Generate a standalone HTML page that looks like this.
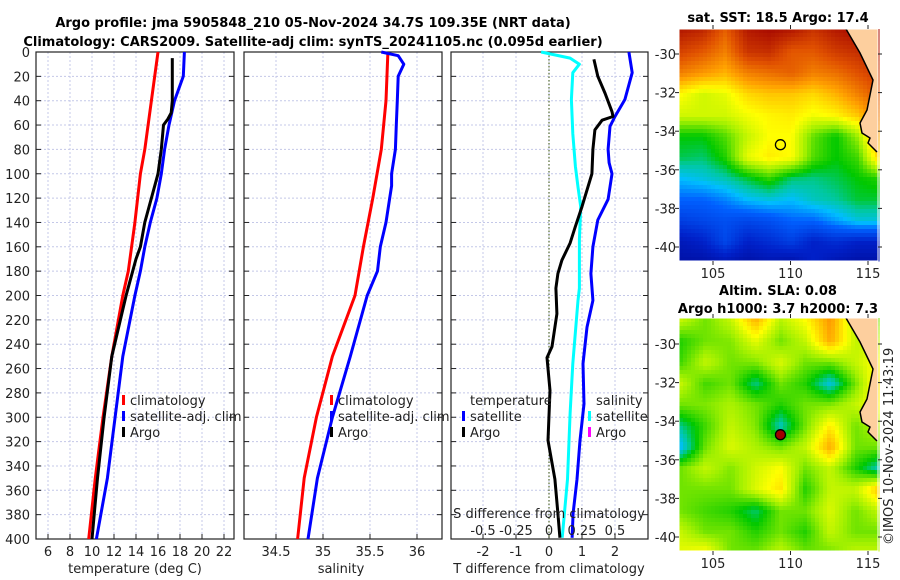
<!DOCTYPE html>
<html><head><meta charset="utf-8">
<style>
html,body{margin:0;padding:0;background:#fff;}
svg{display:block;font-family:"DejaVu Sans","Liberation Sans",sans-serif;}
.t{font-size:13px;fill:#222;}
.b{font-size:13px;font-weight:bold;fill:#000;}
</style></head>
<body>
<svg id="c" width="900" height="580" viewBox="0 0 900 580" xmlns="http://www.w3.org/2000/svg">
<text class="b" x="313" y="27" text-anchor="middle">Argo profile: jma 5905848_210 05-Nov-2024 34.7S 109.35E (NRT data)</text>
<text class="b" x="313" y="46" text-anchor="middle">Climatology: CARS2009. Satellite-adj clim: synTS_20241105.nc (0.095d earlier)</text>
<text class="b" x="778" y="22" text-anchor="middle">sat. SST: 18.5 Argo: 17.4</text>
<text class="b" x="778" y="295" text-anchor="middle">Altim. SLA: 0.08</text>
<text class="b" x="778" y="313" text-anchor="middle">Argo h1000: 3.7 h2000: 7.3</text>
<text class="t" transform="translate(893,545) rotate(-90)">©IMOS 10-Nov-2024 11:43:19</text>
</svg>
<script>
// ---------- profile data ----------
const tClimDepth=[0,20,40,80,100,140,180,200,250,300,350,400];
const tClimVal=[16.0,15.7,15.4,14.8,14.4,13.9,13.3,12.8,11.8,11.0,10.3,9.7];
const tSatDepth=[0,20,30,40,60,80,100,120,140,160,180,200,250,300,350,400];
const tSatVal=[18.4,18.3,17.9,17.5,17.0,16.6,16.3,15.9,15.3,14.8,14.4,13.9,12.8,12.1,11.4,10.4];
const tArgoDepth=[5,40,50,55,60,70,80,100,120,140,160,170,180,190,200,250,300,350,400];
const tArgoVal=[17.3,17.3,17.2,16.9,16.5,16.4,16.3,16.0,15.4,14.8,14.4,14.0,13.7,13.4,13.1,11.8,11.1,10.5,10.0];
const sClimDepth=[0,40,80,120,160,200,250,300,350,400];
const sClimVal=[35.69,35.67,35.62,35.53,35.43,35.34,35.10,34.93,34.80,34.73];
const sSatDepth=[0,3,10,20,40,60,80,100,110,120,140,160,180,200,250,300,350,400];
const sSatVal=[35.62,35.80,35.86,35.80,35.79,35.78,35.77,35.73,35.73,35.71,35.67,35.61,35.58,35.47,35.29,35.10,34.94,34.84];
const dtSatDepth=[0,17,39,53,61,80,91,100,121,138,160,182,204,226,256,289,319,351,379,399];
const dtSatVal=[2.42,2.52,2.30,2.0,1.85,1.79,1.82,1.91,1.79,1.48,1.33,1.27,1.33,1.15,1.03,1.06,0.94,0.85,0.73,0.70];
const dtArgoDepth=[6,20,34,49,53,56,64,80,100,111,127,144,157,171,182,194,215,242,251,278,319,351,379,399];
const dtArgoVal=[1.36,1.48,1.70,1.91,1.94,1.61,1.39,1.33,1.30,1.18,1.0,0.79,0.64,0.39,0.27,0.21,0.24,0.09,-0.06,0.03,-0.03,0.18,0.27,0.33];
const dsSatDepth=[0,5,10,17,39,67,94,111,127,154,194,204,256,297,351,399];
const dsSatVal=[-0.06,0.16,0.23,0.18,0.17,0.18,0.20,0.22,0.24,0.23,0.23,0.22,0.18,0.16,0.14,0.10];
const depthTicks=[0,20,40,60,80,100,120,140,160,180,200,220,240,260,280,300,320,340,360,380,400];
const tTicks=[6,8,10,12,14,16,18,20,22];
const sTicks=[34.5,35,35.5,36];
const dtTicks=[-2,-1,0,1,2];
const dsTicks=[-0.5,-0.25,0,0.25,0.5];
const dsTickLabels=["-0.5","-0.25","0","0.25","0.5"];
// ---------- map data (colormap index 0..1) ----------
const sstGrid=[
[.96,.94,.86,.96,.98,.96,.92,.96,.98,.98],
[.9,.87,.82,.92,.93,.87,.87,.91,.93,.96],
[.82,.79,.76,.82,.84,.86,.82,.84,.88,.92],
[.68,.64,.66,.72,.74,.74,.72,.76,.82,.88],
[.64,.64,.64,.67,.69,.7,.67,.69,.74,.84],
[.5,.5,.55,.63,.68,.68,.56,.5,.6,.8],
[.47,.46,.52,.66,.7,.68,.55,.5,.54,.74],
[.38,.4,.43,.48,.53,.46,.45,.47,.5,.52],
[.3,.3,.33,.38,.4,.38,.42,.44,.48,.48],
[.22,.24,.26,.24,.26,.3,.3,.35,.4,.4],
[.12,.15,.24,.15,.18,.22,.15,.18,.15,.15],
[.08,.08,.1,.08,.1,.08,.15,.1,.08,.08]];
const slaGrid=[
[.63,.57,.63,.76,.62,.68,.79,.62,.57],
[.52,.57,.58,.66,.57,.63,.77,.63,.63],
[.54,.63,.57,.58,.65,.57,.57,.63,.69],
[.63,.54,.57,.45,.57,.52,.4,.57,.73],
[.57,.58,.61,.57,.52,.57,.58,.63,.69],
[.45,.54,.63,.58,.42,.57,.7,.57,.63],
[.38,.57,.65,.61,.57,.63,.77,.57,.57],
[.57,.63,.58,.64,.68,.57,.63,.52,.42],
[.57,.57,.57,.65,.71,.52,.63,.63,.75],
[.57,.54,.52,.46,.57,.57,.65,.57,.63],
[.63,.57,.57,.52,.57,.52,.63,.57,.57],
[.66,.69,.57,.57,.63,.57,.57,.63,.63]];
const latTicks=[-30,-32,-34,-36,-38,-40];
const lonTicks=[105,110,115];
const argoLon=109.35, argoLat=-34.7;

const NS="http://www.w3.org/2000/svg";
const svg=document.getElementById('c');
function mk(tag,attrs,parent){const e=document.createElementNS(NS,tag);for(const k in attrs)e.setAttribute(k,attrs[k]);(parent||svg).appendChild(e);return e;}

const top0=52,bot0=539;
const yD=d=>top0+d*(bot0-top0)/400;
const panels=[
 {name:'temperature',x0:36,x1:234,f:v=>48+(v-6)*11},
 {name:'salinity',x0:244,x1:442,f:v=>276+(v-34.5)*94},
 {name:'difference',x0:451,x1:648,f:v=>549+v*33}
];
const dsX=v=>549+v*132;

panels.forEach((p,pi)=>{
  const g=mk('g',{});
  
  
  const ticks=pi==0?tTicks:pi==1?sTicks:dtTicks;
  depthTicks.forEach(d=>{
    const l=mk('line',{x1:p.x0,x2:p.x1,y1:yD(d),y2:yD(d),stroke:'#c4c8e8','stroke-width':1,'stroke-dasharray':'2,2'},g);
    
    
    mk('line',{x1:p.x0,x2:p.x0+5,y1:yD(d),y2:yD(d),stroke:'#222'},g);
    mk('line',{x1:p.x1-5,x2:p.x1,y1:yD(d),y2:yD(d),stroke:'#222'},g);
  });
  ticks.forEach((t,i)=>{
    const x=p.f(t);
    const l=mk('line',{x1:x,x2:x,y1:top0,y2:bot0,stroke:'#c4c8e8','stroke-width':1,'stroke-dasharray':'2,2'},g);
    
    
    mk('line',{x1:x,x2:x,y1:bot0-5,y2:bot0,stroke:'#222'},g);
    const tx=mk('text',{x:x,y:556,'text-anchor':'middle',class:'t'},g);
    tx.textContent=String(t);
    
    
  });
  const fr=mk('rect',{x:p.x0,y:top0,width:p.x1-p.x0,height:bot0-top0,fill:'none',stroke:'#222','stroke-width':1.2},g);
  
  
});
depthTicks.forEach(d=>{
  const t=mk('text',{x:30,y:yD(d)+5,'text-anchor':'end',class:'t'});
  t.textContent=String(d);
  
  
});
const zl=mk('line',{x1:549,x2:549,y1:top0,y2:bot0,stroke:'#556b2f','stroke-width':1.2,'stroke-dasharray':'1.5,2'});



function series(depths,vals,fx,color,name,w){
  const pts=depths.map((d,i)=>fx(vals[i]).toFixed(1)+','+yD(d).toFixed(1)).join(' ');
  const pl=mk('polyline',{points:pts,fill:'none',stroke:color,'stroke-width':w||3,'stroke-linejoin':'round'});
  
  
}
series(tClimDepth,tClimVal,panels[0].f,'#ff0000','temperature-climatology-line');
series(tSatDepth,tSatVal,panels[0].f,'#0000ff','temperature-satellite-adj-line');
series(tArgoDepth,tArgoVal,panels[0].f,'#000000','temperature-argo-line');
series(sClimDepth,sClimVal,panels[1].f,'#ff0000','salinity-climatology-line');
series(sSatDepth,sSatVal,panels[1].f,'#0000ff','salinity-satellite-adj-line');
series(dsSatDepth,dsSatVal,dsX,'#00ffff','salinity-difference-satellite-line');
series(dtSatDepth,dtSatVal,panels[2].f,'#0000ff','temperature-difference-satellite-line');
series(dtArgoDepth,dtArgoVal,panels[2].f,'#000000','temperature-difference-argo-line');

function txt(x,y,s,name,anchor,cls){const t=mk('text',{x:x,y:y,'text-anchor':anchor||'start',class:cls||'t'});t.textContent=s;return t;}
function legend(x,y,color,label,name){
  const r=mk('rect',{x:x,y:y-10,width:3,height:10,fill:color});
  
  
  txt(x+8,y,label,name);
}
legend(122,405,'#ff0000','climatology','legend-t-climatology');
legend(122,421,'#0000ff','satellite-adj. clim','legend-t-satellite');
legend(122,437,'#000000','Argo','legend-t-argo');
legend(330,405,'#ff0000','climatology','legend-s-climatology');
legend(330,421,'#0000ff','satellite-adj. clim','legend-s-satellite');
legend(330,437,'#000000','Argo','legend-s-argo');
txt(470,405,'temperature','legend-temperature-header');
legend(462,421,'#0000ff','satellite','legend-dt-satellite');
legend(462,437,'#000000','Argo','legend-dt-argo');
txt(596,405,'salinity','legend-salinity-header');
legend(588,421,'#00ffff','satellite','legend-ds-satellite');
legend(588,437,'#ff00ff','Argo','legend-ds-argo');
txt(549,518,'S difference from climatology','s-difference-axis-title','middle');
dsTicks.forEach((v,i)=>txt(dsX(v),535,dsTickLabels[i],'s-difference-tick-label','middle'));
txt(135,573,'temperature (deg C)','temperature-axis-title','middle');
txt(341,573,'salinity','salinity-axis-title','middle');
txt(549,573,'T difference from climatology','t-difference-axis-title','middle');

// ---------- maps ----------
const cmStops=[[0,[0,0,128]],[0.15,[0,32,200]],[0.3,[0,96,255]],[0.38,[0,190,255]],[0.44,[0,200,160]],[0.5,[0,200,0]],[0.6,[160,240,0]],[0.68,[255,255,0]],[0.78,[255,160,0]],[0.88,[224,80,0]],[1,[160,0,0]]];
function cmap(v){v=Math.max(0,Math.min(1,v));
  for(let i=1;i<cmStops.length;i++){if(v<=cmStops[i][0]){const a=cmStops[i-1],b=cmStops[i];const t=(v-a[0])/(b[0]-a[0]);
    return 'rgb('+a[1].map((c,k)=>Math.round(c+(b[1][k]-c)*t)).join(',')+')';}}
  return 'rgb(160,0,0)';}
function drawMap(grid,y0,y1,name,lat30y,lat40y,argoStyle){
  const x0=679,x1=878;
  const g=mk('g',{});
  
  
  const R=grid.length,C=grid[0].length,cs=4;
  for(let y=y0;y<y1;y+=cs){for(let x=x0;x<x1;x+=cs){
    const fy=(y-y0)/(y1-y0)*(R-1),fx=(x-x0)/(x1-x0)*(C-1);
    const iy=Math.min(R-2,Math.floor(fy)),ix=Math.min(C-2,Math.floor(fx));
    const ty=fy-iy,tx=fx-ix;
    const v=grid[iy][ix]*(1-tx)*(1-ty)+grid[iy][ix+1]*tx*(1-ty)+grid[iy+1][ix]*(1-tx)*ty+grid[iy+1][ix+1]*tx*ty;
    mk('rect',{x:x,y:y,width:cs+0.5,height:Math.min(cs,y1-y)+0.5,fill:cmap(v)},g);
  }}
  const o=y0-29;
  const coast=[[846,29],[860,53],[873,80],[867,110],[860,123],[862,133],[870,138],[868,143],[877,152]].map(p=>[p[0],p[1]+o]);
  const landPts=coast.map(p=>p.join(',')).join(' ')+` ${x1},${y0+123} ${x1},${y0}`;
  const land=mk('polygon',{points:landPts,fill:'#fdcf9e'},g);
  
  
  mk('polyline',{points:coast.map(p=>p.join(',')).join(' '),fill:'none',stroke:'#000','stroke-width':1.5},g);
  mk('rect',{x:x0,y:y0,width:x1-x0,height:y1-y0,fill:'none',stroke:'#fff','stroke-width':1},g);
  const latY=l=>lat30y+(-30-l)*(lat40y-lat30y)/10;
  latTicks.forEach(l=>{
    const y=latY(l);
    mk('line',{x1:x0-4,x2:x0,y1:y,y2:y,stroke:'#222'},g);
    mk('line',{x1:x1,x2:x1+4,y1:y,y2:y,stroke:'#222'},g);
    txt(676,y+5,String(l),'map-lat-tick-label','end');
  });
  const lonX=l=>713+(l-105)*15.5;
  lonTicks.forEach(l=>{
    const x=lonX(l);
    mk('line',{x1:x,x2:x,y1:y1,y2:y1+4,stroke:'#222'},g);
    mk('line',{x1:x,x2:x,y1:y0-4,y2:y0,stroke:'#222'},g);
    txt(x,y1+17,String(l),'map-lon-tick-label','middle');
  });
  const m=mk('circle',{cx:lonX(argoLon),cy:latY(argoLat),r:5,fill:argoStyle?'#a00000':'none',stroke:'#000','stroke-width':1.3},g);
  
  
}
drawMap(sstGrid,29,261,'sst-map',54,247,false);
drawMap(slaGrid,318,551,'sla-map',344,537,true);
</script>
</body></html>
